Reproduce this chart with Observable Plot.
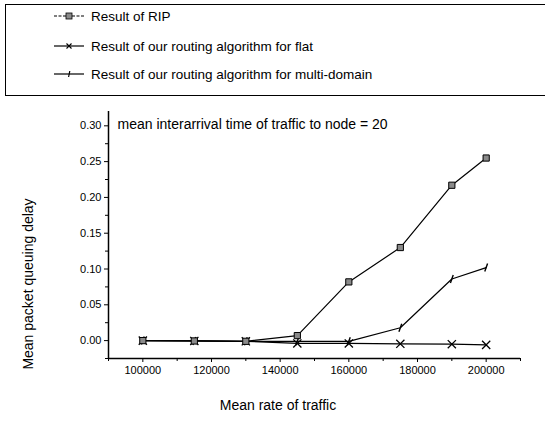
<!DOCTYPE html>
<html><head><meta charset="utf-8">
<script src="https://cdn.jsdelivr.net/npm/d3@7"></script>
<script src="https://cdn.jsdelivr.net/npm/@observablehq/plot@0.6"></script>
<style>
body{margin:0;background:#fff;font-family:"Liberation Sans",Arial,sans-serif;color:#000}
#wrap{position:relative;width:545px;height:423px;overflow:hidden;background:#fff}
#legend{position:absolute;left:5px;top:4px;width:560px;height:92px;border:1.5px solid #000;box-sizing:border-box}
.row{position:absolute;left:48px;height:18px;display:flex;align-items:center;font-size:13.5px;white-space:nowrap}
.row svg{margin-right:5px}
#chart{position:absolute;left:0;top:100px}
#ylab{position:absolute;left:28px;top:284px;transform:translate(-50%,-50%) rotate(-90deg);font-size:14px;white-space:nowrap}
#xlab{position:absolute;left:278px;top:405px;transform:translate(-50%,-50%);font-size:14px;white-space:nowrap}
</style></head>
<body>
<div id="wrap">
  <div id="legend"></div>
  <div id="chart"></div>
  <div id="ylab"></div>
  <div id="xlab"></div>
</div>
<script>
// ---- data ----
const rates = [100000, 115000, 130000, 145000, 160000, 175000, 190000, 200000];
const ripDelay   = [0.000, -0.0005, -0.001, 0.007, 0.082, 0.130, 0.217, 0.255];
const flatDelay  = [0.000, -0.0005, -0.001, -0.004, -0.004, -0.0045, -0.005, -0.006];
const multiDelay = [0.000, -0.0005, -0.001, -0.001, -0.001, 0.018, 0.086, 0.102];
const seriesNames = ["Result of RIP", "Result of our routing algorithm for flat", "Result of our routing algorithm for multi-domain"];
const xTicks = [100000, 120000, 140000, 160000, 180000, 200000];
const xMinorTicks = [90000, 110000, 130000, 150000, 170000, 190000, 210000];
const yTicks = [0.00, 0.05, 0.10, 0.15, 0.20, 0.25, 0.30];
const yMinorTicks = [-0.025, 0.025, 0.075, 0.125, 0.175, 0.225, 0.275];
const xDomain = [90000, 210000];
const yDomain = [-0.025, 0.32];
const annotation = "mean interarrival time of traffic to node = 20";
const xLabel = "Mean rate of traffic";
const yLabel = "Mean packet queuing delay";

const rip = rates.map((x, i) => ({x, y: ripDelay[i]}));
const flat = rates.map((x, i) => ({x, y: flatDelay[i]}));
const multi = rates.map((x, i) => ({x, y: multiDelay[i]}));

const slash = {
  draw(ctx, size) {
    const r = Math.sqrt(size / Math.PI);
    ctx.moveTo(r * 0.35, -r);
    ctx.lineTo(-r * 0.35, r);
  }
};

const font = "Liberation Sans, Arial, sans-serif";
const chart = Plot.plot({
  width: 545,
  height: 323,
  marginLeft: 108,
  marginRight: 25,
  marginTop: 11,
  marginBottom: 65,
  style: {fontFamily: font, fontSize: "11px", color: "#000", background: "transparent"},
  x: {domain: xDomain},
  y: {domain: yDomain},
  marks: [
    Plot.axisX(xMinorTicks, {tickSize: 3, text: null, label: null, stroke: "#000"}),
    Plot.axisX(xTicks, {tickSize: 4, tickPadding: 4, tickFormat: d3.format("d"), label: null, stroke: "#000", fill: "#000", fontSize: 11}),
    Plot.axisY(yMinorTicks, {tickSize: 3, text: null, label: null, stroke: "#000"}),
    Plot.axisY(yTicks, {tickSize: 4, tickPadding: 3, tickFormat: d3.format(".2f"), label: null, stroke: "#000", fill: "#000", fontSize: 11}),
    Plot.ruleX([xDomain[0]], {stroke: "#000", strokeWidth: 1.5}),
    Plot.ruleY([yDomain[0]], {stroke: "#000", strokeWidth: 1.5}),
    Plot.line(flat, {x: "x", y: "y", stroke: "#000", strokeWidth: 1.2}),
    Plot.line(multi, {x: "x", y: "y", stroke: "#000", strokeWidth: 1.2}),
    Plot.line(rip, {x: "x", y: "y", stroke: "#000", strokeWidth: 1.2}),
    Plot.dot(flat, {x: "x", y: "y", symbol: "times", r: 3.8, stroke: "#000", strokeWidth: 1.3}),
    Plot.dot(multi, {x: "x", y: "y", symbol: slash, r: 4, stroke: "#000", strokeWidth: 1.4}),
    Plot.dot(rip, {x: "x", y: "y", symbol: "square", r: 3.5, fill: "#8a8a8a", stroke: "#000", strokeWidth: 1}),
    Plot.text([annotation], {frameAnchor: "top-left", dx: 9, dy: 13, text: d => d, fontSize: 14, fill: "#000", lineAnchor: "middle", textAnchor: "start"})
  ]
});
document.getElementById("chart").appendChild(chart);
document.getElementById("ylab").textContent = yLabel;
document.getElementById("xlab").textContent = xLabel;

// legend
const legend = document.getElementById("legend");
const rowsTop = [2, 32, 60];
const sym = [
  '<line x1="0" y1="6" x2="30" y2="6" stroke="#000" stroke-width="1.2" stroke-dasharray="3,1.5"/><rect x="12" y="3" width="6" height="6" fill="#8a8a8a" stroke="#000" stroke-width="0.8"/>',
  '<line x1="0" y1="6" x2="30" y2="6" stroke="#000" stroke-width="1.2"/><path d="M12.5,3.5L17.5,8.5M17.5,3.5L12.5,8.5" stroke="#000" stroke-width="1.1"/>',
  '<line x1="0" y1="6" x2="30" y2="6" stroke="#000" stroke-width="1.2"/><path d="M15.8,3L14.6,9" stroke="#000" stroke-width="1.2"/>'
];
seriesNames.forEach((name, i) => {
  const row = document.createElement("div");
  row.className = "row";
  row.style.top = rowsTop[i] + "px";
  row.innerHTML = '<svg width="32" height="12">' + sym[i] + '</svg><span></span>';
  row.querySelector("span").textContent = name;
  legend.appendChild(row);
});
</script>
</body></html>
